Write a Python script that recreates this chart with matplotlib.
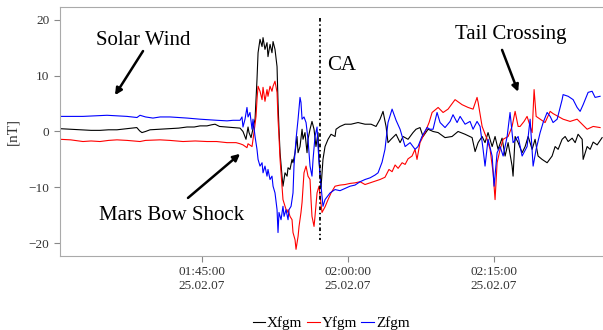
import matplotlib.pyplot as plt

# time in minutes after 01:30:00 on 25.02.07, field in nT
x_t = [0.41, 1.5, 2.77, 3.6, 4.52, 5.4, 6.26, 7.3, 8.3, 8.6, 8.83, 9.2, 9.66, 10.7, 11.71, 12.6, 13.46,
       14.2, 14.8, 15.51, 16.0, 16.34, 16.8, 17.57, 18.2, 18.91,
       19.21, 19.52, 19.73, 19.83, 20.04, 20.45, 20.65, 20.76, 20.96, 21.17, 21.27, 21.47, 21.68, 21.78,
       21.99, 22.19, 22.30, 22.50, 22.71, 22.81, 22.91, 23.02, 23.22, 23.32, 23.53, 23.74, 23.84, 24.04,
       24.25, 24.35, 24.56, 24.76, 24.87, 25.07, 25.28, 25.38, 25.58, 25.79, 25.89, 26.10, 26.30, 26.51,
       26.71, 26.92, 27.02, 27.23, 27.43, 27.64, 27.95, 28.26, 28.67, 28.77, 29.18, 29.70, 30.31, 31.03,
       31.75, 32.37, 32.88, 33.29, 33.60, 33.91, 34.11, 34.42, 34.94, 35.35, 35.66, 36.17, 36.68, 36.99,
       37.40, 37.71, 38.23, 38.74, 39.26, 39.97, 40.69, 41.31, 42.03, 42.75, 43.06, 43.37, 43.78, 44.08,
       44.39, 44.81, 45.11, 45.42, 45.83, 46.14, 46.45, 46.86, 46.96, 47.17, 47.48, 47.89, 48.20, 48.51,
       48.92, 49.22, 49.53, 49.94, 50.46, 50.97, 51.28, 51.59, 52.00, 52.31, 52.62, 53.03, 53.34, 53.64,
       54.06, 54.16, 54.57, 54.88, 55.19, 55.60, 56.11]
x_v = [0.5, 0.4, 0.3, 0.2, 0.2, 0.3, 0.3, 0.5, 0.7, 0.1, -0.2, 0.0, 0.3, 0.4, 0.5, 0.6, 0.8,
       0.8, 1.0, 1.0, 1.2, 1.3, 0.9, 0.8, 0.7, 0.6,
       0.0, -1.4, 0.8, -0.2, -1.1, 2.2, 9.3, 14.1, 16.5, 15.2, 16.8, 14.7, 15.9, 13.4,
       15.6, 14.1, 16.1, 14.7, 11.6, 5.2, 0.4, -3.8, -8.0, -9.8, -7.4, -8.0, -6.5, -6.8,
       -5.0, -5.6, -3.8, -0.9, -3.8, -2.7, 0.4, -1.4, -0.2, -3.8, -1.4, 0.4, 1.8, 0.4,
       -2.7, -0.2, -5.0, -10.0, -5.0, -2.7, -1.4, -0.5, -0.9, 0.4, 0.9, 1.3, 1.3, 1.6,
       1.3, 1.3, 0.9, 2.2, 3.6, 0.9, -2.0, -1.4, -0.5, -2.0, -0.9, -1.4, -0.2, 0.4,
       0.7, -0.9, 0.4, 0.0, -0.2, -1.1, -0.9, 0.0, -0.5, -1.1, -3.6, -2.0, -0.9, -2.0,
       -0.2, -2.7, -0.9, -3.2, -1.2, -4.4, -2.0, -6.2, -8.0, -0.9, -2.0, -3.8, -2.7, -0.9,
       -3.2, -1.4, -4.4, -5.0, -5.6, -4.4, -2.7, -3.2, -1.4, -0.9, -1.8, -1.2, -2.0, -0.5,
       -1.4, -5.0, -2.7, -3.2, -1.9, -2.4, -1.1]

y_t = [0.41, 1.5, 2.77, 3.6, 4.52, 5.4, 6.26, 7.3, 8.63, 9.2, 10.68, 11.7, 13.05, 14.3, 15.51, 16.5,
       17.57, 18.5, 18.91,
       19.21, 19.62, 19.73, 20.14, 20.34, 20.55, 20.65, 20.76, 20.96, 21.17, 21.27, 21.47, 21.68, 21.78,
       21.99, 22.19, 22.30, 22.50, 22.71, 22.81, 22.91, 23.02, 23.22, 23.32, 23.53, 23.74, 23.84, 24.04,
       24.25, 24.35, 24.56, 24.66, 24.87, 24.97, 25.17, 25.28, 25.48, 25.69, 25.89, 26.10, 26.20, 26.30,
       26.51, 26.61, 26.82, 27.02, 27.13, 27.33, 27.64, 27.95, 28.26, 28.67, 29.18, 29.70, 30.21, 30.72,
       31.24, 31.75, 32.27, 32.78, 33.29, 33.80, 34.21, 34.53, 34.84, 35.15, 35.56, 35.87, 36.17, 36.58,
       36.89, 37.09, 37.40, 37.91, 38.33, 38.64, 39.26, 39.77, 40.28, 41.00, 41.72, 42.34, 42.85, 43.26,
       43.37, 43.78, 44.29, 44.60, 44.91, 45.11, 45.32, 45.63, 45.94, 46.45, 46.86, 47.17, 47.48, 47.68,
       48.09, 48.40, 48.92, 49.12, 49.33, 49.74, 50.25, 50.77, 51.07, 51.59, 52.10, 52.82, 53.54, 54.06,
       54.57, 55.19, 55.90]
y_v = [-1.4, -1.5, -1.8, -1.7, -1.8, -1.6, -1.5, -1.6, -1.8, -1.6, -1.5, -1.6, -1.8, -1.7, -1.8, -1.8,
       -2.0, -2.0, -2.2,
       -2.4, -2.9, -2.2, -2.7, -0.2, 2.7, 5.7, 8.1, 7.2, 5.7, 7.9, 5.4, 7.5, 6.3,
       8.1, 7.2, 8.1, 9.0, 7.0, 2.2, -0.9, -5.0, -9.8, -12.2, -13.4, -14.5, -14.0, -15.2,
       -15.8, -18.1, -19.4, -21.1, -18.8, -17.0, -14.5, -12.7, -7.4, -6.2, -8.0, -8.6, -12.2, -15.2,
       -17.0, -15.2, -11.0, -9.8, -11.5, -14.5, -13.5, -12.2, -11.0, -9.8, -9.6, -9.5, -9.3, -9.2,
       -9.0, -9.5, -9.2, -8.9, -8.6, -8.2, -6.8, -7.2, -6.0, -6.6, -5.6, -5.9, -4.9, -4.4,
       -3.2, -5.0, -2.0, -0.2, 1.6, 3.4, 4.3, 3.4, 4.0, 5.7, 4.8, 4.3, 4.0, 6.1,
       5.2, 0.9, -1.4, -3.2, -7.4, -12.2, -5.6, -3.2, -1.4, -0.9, 0.9, 3.6, 0.9, 0.9,
       1.8, 2.7, -0.2, 7.5, 2.7, 2.2, 1.6, 3.6, 3.2, 2.7, 2.2, 1.8, 2.2, 1.3,
       0.4, 0.9, 0.7]

z_t = [0.41, 1.5, 2.77, 4.0, 5.24, 6.3, 7.29, 8.32, 8.63, 9.2, 9.96, 10.7, 11.71, 12.6, 13.46, 14.79,
       15.6, 16.54, 17.57, 18.19, 18.91,
       19.11, 19.21, 19.42, 19.62, 19.73, 19.93, 20.14, 20.24, 20.45, 20.65, 20.76, 20.96, 21.17, 21.27,
       21.47, 21.68, 21.78, 21.99, 22.19, 22.30, 22.50, 22.71, 22.81, 22.91, 23.12, 23.32, 23.43, 23.63,
       23.84, 23.94, 24.15, 24.35, 24.45, 24.66, 24.87, 25.07, 25.17, 25.28, 25.48, 25.69, 25.89, 26.10,
       26.30, 26.41, 26.61, 26.82, 26.92, 27.13, 27.33, 27.43, 27.64, 28.16, 28.67, 29.18, 29.70, 30.21,
       30.72, 31.24, 31.75, 32.27, 32.78, 33.09, 33.50, 33.80, 34.11, 34.53, 34.94, 35.35, 35.87, 36.38,
       36.89, 37.19, 37.60, 38.12, 38.43, 38.74, 39.15, 39.46, 39.97, 40.49, 40.79, 41.21, 41.52, 42.03,
       42.54, 42.85, 43.26, 43.57, 43.88, 44.08, 44.39, 44.81, 45.01, 45.32, 45.63, 45.94, 46.35, 46.65,
       46.96, 47.48, 47.89, 48.40, 48.71, 49.02, 49.33, 49.74, 50.05, 50.46, 50.77, 51.07, 51.49, 52.00,
       52.10, 52.62, 53.13, 53.54, 53.85, 54.16, 54.67, 55.08, 55.39, 55.90]
z_v = [2.7, 2.7, 2.7, 2.8, 2.9, 2.8, 2.7, 2.5, 2.9, 2.6, 2.4, 2.6, 2.6, 2.5, 2.4, 2.2,
       2.1, 2.0, 1.9, 2.0, 2.0,
       2.6, 0.8, 2.2, 4.3, 2.6, 3.4, 0.4, 2.2, -0.9, -3.2, -5.0, -6.2, -5.6, -7.4,
       -6.2, -8.0, -6.8, -8.6, -8.0, -9.8, -11.0, -14.0, -18.1, -14.5, -15.8, -13.4, -15.2, -14.0,
       -15.8, -14.0, -13.4, -11.0, -6.2, -1.4, 2.2, 6.1, 5.2, 2.2, 2.6, 1.6, -1.4, -6.2,
       -8.0, -5.0, -0.9, 0.8, -2.7, -8.0, -11.6, -13.4, -12.2, -11.0, -10.4, -10.6, -10.2, -9.8,
       -9.6, -9.0, -8.6, -8.3, -7.8, -7.4, -5.5, -3.2, 1.6, 4.0, 2.0, 0.4, -2.7, -2.0,
       -3.2, -2.7, -0.9, 0.7, 0.4, 0.4, 3.4, 1.6, 0.7, 1.8, 3.0, 1.6, 2.7, 1.3,
       1.8, 0.4, 1.8, 0.9, -3.2, -6.2, -1.4, -4.4, -9.8, -3.8, -2.7, -4.4, -0.9, 3.4,
       -2.0, -0.9, -4.4, -2.7, 2.2, -6.2, -3.2, -0.2, 1.6, 3.4, 2.7, 1.6, 2.2, 5.7,
       6.6, 6.3, 5.7, 4.3, 3.6, 4.8, 7.0, 7.2, 6.1, 6.3]

tick_pos = [15, 30, 45]
tick_lab = ['01:45:00\n25.02.07', '02:00:00\n25.02.07', '02:15:00\n25.02.07']
ca_time = 27.13

plt.rcParams['font.family'] = ['Liberation Serif', 'DejaVu Serif']

fig = plt.figure(figsize=(6.03, 3.30), dpi=100)
ax = fig.add_axes([0.0995, 0.2242, 0.9005, 0.7548])

ax.plot(x_t, x_v, color='black', lw=0.8, label='Xfgm')
ax.plot(y_t, y_v, color='red', lw=0.8, label='Yfgm')
ax.plot(z_t, z_v, color='blue', lw=0.8, label='Zfgm')

# closest approach marker
ax.plot([ca_time, ca_time], [20.4, -19.4], color='black', lw=1.3, linestyle=(0, (2, 1.5, 0.8, 1.5)))

ax.set_xlim(0.41, 56.2)
ax.set_ylim(-22.3, 22.3)
ax.set_yticks([-20, -10, 0, 10, 20])
ax.set_xticks(tick_pos)
ax.set_xticklabels(tick_lab)
ax.tick_params(colors='#888888', labelcolor='#333333', labelsize=9.5, length=4)
for s in ['left', 'top', 'bottom']:
    ax.spines[s].set_color('#aaaaaa')
ax.spines['right'].set_visible(False)
ax.set_ylabel('[nT]', fontsize=11, color='#333333', labelpad=7)

arr = dict(arrowstyle='-|>', lw=1.8, color='black', mutation_scale=10, shrinkA=0, shrinkB=0)
ax.text(8.94, 16.2, 'Solar Wind', fontsize=15, ha='center', va='center')
ax.annotate('', xy=(6.06, 6.5), xytext=(8.94, 14.4), arrowprops=arr)
ax.text(11.92, -15.0, 'Mars Bow Shock', fontsize=15, ha='center', va='center')
ax.annotate('', xy=(18.91, -4.0), xytext=(13.56, -11.9), arrowprops=arr)
ax.text(27.85, 11.9, 'CA', fontsize=15, ha='left', va='center')
ax.text(46.76, 17.3, 'Tail Crossing', fontsize=15, ha='center', va='center')
ax.annotate('', xy=(47.48, 7.1), xytext=(45.83, 14.6), arrowprops=arr)

fig.legend(loc='center', bbox_to_anchor=(0.549, 0.021), ncol=3, frameon=False, fontsize=11,
           handlelength=0.85, handletextpad=0.1, columnspacing=0.3, borderpad=0)

fig.savefig('out.png', dpi=100)
